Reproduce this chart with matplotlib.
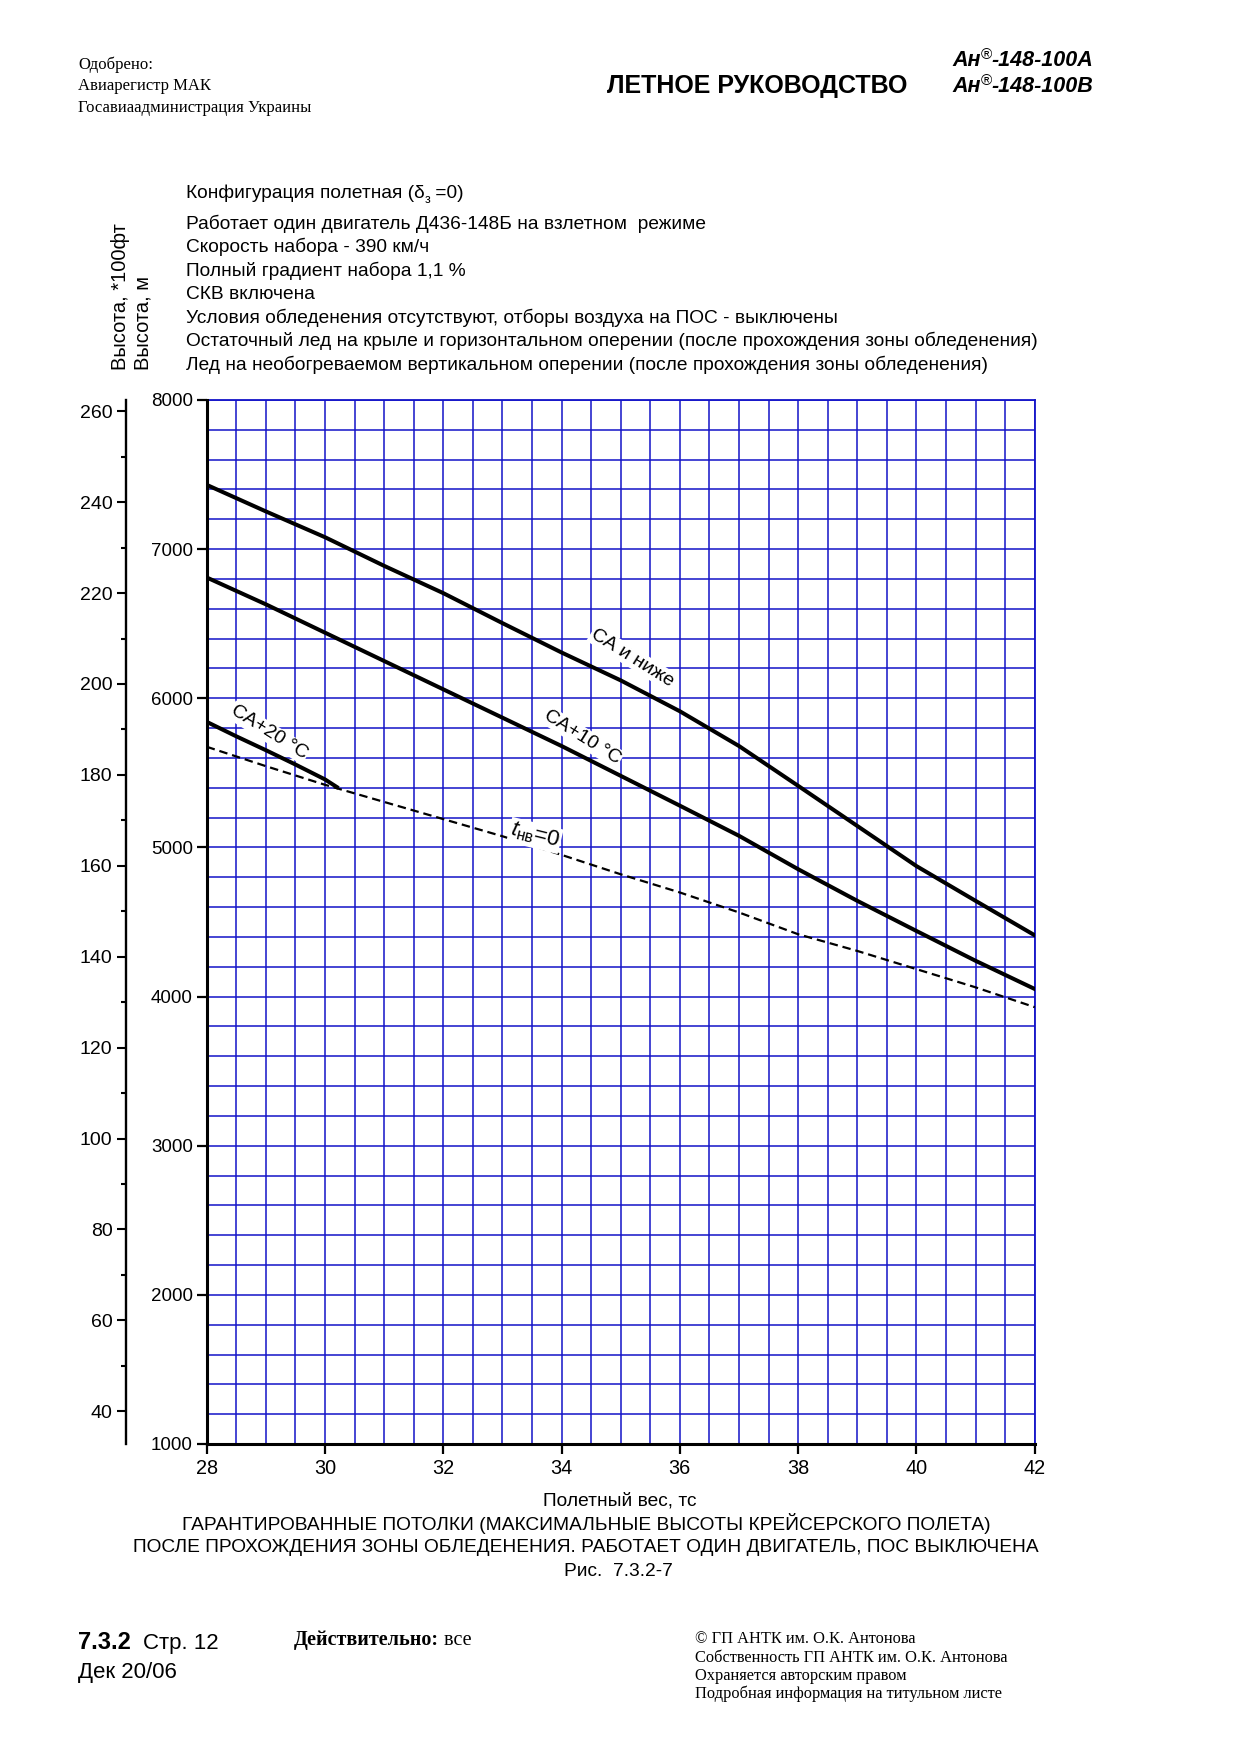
import matplotlib
matplotlib.use('Agg')
import matplotlib.pyplot as plt
from matplotlib.ticker import MultipleLocator
from matplotlib import font_manager as fm

# --- chart data ---
weight = [28, 29, 30, 31, 32, 33, 34, 35, 36, 37, 38, 39, 40, 41, 42]
h_isa = [7431, 7253, 7080, 6888, 6705, 6504, 6307, 6120, 5913, 5680, 5413, 5144, 4875, 4642, 4411]
h_isa10 = [6810, 6630, 6440, 6250, 6060, 5870, 5680, 5480, 5280, 5078, 4854, 4642, 4440, 4240, 4051]
weight20 = [28, 28.5, 29, 29.5, 30, 30.2]
h_isa20 = [5842, 5745, 5652, 5556, 5456, 5405]
h_t0 = [5675, 5545, 5420, 5305, 5190, 5075, 4950, 4820, 4698, 4564, 4418, 4306, 4184, 4062, 3929]

x_ticks = [28, 30, 32, 34, 36, 38, 40, 42]
m_ticks = [1000, 2000, 3000, 4000, 5000, 6000, 7000, 8000]
ft_ticks = [40, 60, 80, 100, 120, 140, 160, 180, 200, 220, 240, 260]

notes = ['Работает один двигатель Д436-148Б на взлетном  режиме',
         'Скорость набора - 390 км/ч',
         'Полный градиент набора 1,1 %',
         'СКВ включена',
         'Условия обледенения отсутствуют, отборы воздуха на ПОС - выключены',
         'Остаточный лед на крыле и горизонтальном оперении (после прохождения зоны обледенения)',
         'Лед на необогреваемом вертикальном оперении (после прохождения зоны обледенения)']
title_lines = ['ГАРАНТИРОВАННЫЕ ПОТОЛКИ (МАКСИМАЛЬНЫЕ ВЫСОТЫ КРЕЙСЕРСКОГО ПОЛЕТА)',
               'ПОСЛЕ ПРОХОЖДЕНИЯ ЗОНЫ ОБЛЕДЕНЕНИЯ. РАБОТАЕТ ОДИН ДВИГАТЕЛЬ, ПОС ВЫКЛЮЧЕНА']
approved = ['Одобрено:', 'Авиарегистр МАК', 'Госавиаадминистрация Украины']
copyright_lines = ['© ГП АНТК им. О.К. Антонова', 'Собственность ГП АНТК им. О.К. Антонова',
                   'Охраняется авторским правом', 'Подробная информация на титульном листе']

names = set(f.name for f in fm.fontManager.ttflist)
SANS = ['Liberation Sans', 'DejaVu Sans']
NARROW = (['Liberation Sans Narrow'] if 'Liberation Sans Narrow' in names else []) + SANS
SERIF = ['Liberation Serif', 'DejaVu Serif']
# no narrow face installed -> shrink the size so widths still match
NS = 16.5 if 'Liberation Sans Narrow' in names else 13.8

plt.rcParams['font.family'] = SANS
plt.rcParams['mathtext.fontset'] = 'custom'
plt.rcParams['mathtext.rm'] = 'Liberation Sans'
plt.rcParams['mathtext.it'] = 'Liberation Sans:italic'

W, H = 1240, 1755
BLUE = '#1414c8'
fig = plt.figure(figsize=(W / 100, H / 100), dpi=100)
rend = fig.canvas.get_renderer()


def fx(x):
    return x / W


def fy(y):
    return 1 - y / H


def run(x, y, parts):
    # draw pieces of text one after another on a common baseline
    cur = x
    for s, dy, kw in parts:
        t = fig.text(fx(cur), fy(y + dy), s, va='baseline', ha='left', **kw)
        cur = t.get_window_extent(rend).x1
    return cur


# main axes
ax = fig.add_axes([fx(206.7), fy(1444), 828 / W, 1044 / H])
ax.plot(weight, h_isa, color='black', lw=2.9, zorder=3)
ax.plot(weight, h_isa10, color='black', lw=2.9, zorder=3)
ax.plot(weight20, h_isa20, color='black', lw=2.9, zorder=3)
ax.plot(weight, h_t0, color='black', lw=1.6, ls=(0, (3.8, 2.2)), zorder=3)
ax.set_xlim(28, 42)
ax.set_ylim(1000, 8000)
ax.set_xticks(x_ticks)
ax.set_yticks(m_ticks)
ax.xaxis.set_minor_locator(MultipleLocator(0.5))
ax.yaxis.set_minor_locator(MultipleLocator(200))
ax.grid(which='both', color=BLUE, lw=1.1, zorder=1)
ax.set_axisbelow(True)
ax.tick_params(which='minor', length=0)
ax.tick_params(which='major', direction='out', length=7, width=1.6, color='black')
ax.tick_params(axis='y', labelsize=13.5, pad=3)
ax.tick_params(axis='x', labelsize=NS + 0.5, pad=4)
for lab in ax.get_xticklabels():
    lab.set_family(NARROW)
for s in ['left', 'bottom']:
    ax.spines[s].set_linewidth(2.2)
    ax.spines[s].set_zorder(4)
for s in ['top', 'right']:
    ax.spines[s].set_color(BLUE)
    ax.spines[s].set_linewidth(1.3)

lab_kw = dict(rotation_mode='anchor', ha='center', va='center', zorder=5,
              bbox=dict(facecolor='white', edgecolor='none', pad=1.0))
ax.text(35.2, 6270, 'СА и ниже', rotation=-32, fontsize=14, **lab_kw)
ax.text(34.35, 5740, 'СА+10 °С', rotation=-32, fontsize=14, **lab_kw)
ax.text(29.05, 5770, 'СА+20 °С', rotation=-32, fontsize=14, **lab_kw)
ax.text(33.55, 5080, r'$t_{\mathrm{нв}}$=0', rotation=-14, fontsize=16, **lab_kw)

# feet axis on the left
axf = fig.add_axes([fx(125.7), fy(1444), 1e-4, 1044 / H])
axf.patch.set_visible(False)
for s in ['top', 'right', 'bottom']:
    axf.spines[s].set_visible(False)
axf.spines['left'].set_linewidth(1.7)
axf.set_xticks([])
axf.set_ylim(1000 / 30.48, 8000 / 30.48)
axf.set_yticks(ft_ticks)
axf.yaxis.set_minor_locator(MultipleLocator(10))
axf.tick_params(which='major', direction='out', length=6.5, width=1.5, labelsize=14, pad=3)
axf.tick_params(which='minor', direction='out', length=3.5, width=1.5)

# axis titles
fig.text(fx(121), fy(370), 'Высота, *100фт', rotation=90, rotation_mode='anchor',
         ha='left', va='center', fontsize=14.5)
fig.text(fx(143), fy(370), 'Высота, м', rotation=90, rotation_mode='anchor',
         ha='left', va='center', fontsize=14.5)
fig.text(fx(620), fy(1501), 'Полетный вес, тс', ha='center', va='center', fontsize=NS, family=NARROW)
for yy, s in zip([1523, 1548], title_lines):
    fig.text(fx(586), fy(yy), s, ha='center', va='center', fontsize=NS, family=NARROW)
fig.text(fx(618), fy(1571), 'Рис.  7.3.2-7', ha='center', va='center', fontsize=NS, family=NARROW)

# notes block
nkw = dict(fontsize=NS, family=NARROW)
run(186, 198, [('Конфигурация полетная (δ', 0, nkw), ('з', 5, dict(fontsize=NS * 0.65, family=NARROW)),
               (' =0)', 0, nkw)])
for yy, s in zip([228.7, 252.2, 275.7, 299.2, 322.7, 346.2, 369.7], notes):
    fig.text(fx(186), fy(yy), s, va='baseline', ha='left', **nkw)

# page header
for yy, s in zip([69, 90, 112], approved):
    fig.text(fx(78), fy(yy), s, va='baseline', ha='left', fontsize=12, family=SERIF)
fig.text(fx(607), fy(93), 'ЛЕТНОЕ РУКОВОДСТВО', va='baseline', ha='left', fontsize=18,
         fontweight='bold')
bik = dict(fontsize=15.5, fontweight='bold', fontstyle='italic')
for yy, tail in [(66, '-148-100А'), (92, '-148-100В')]:
    run(952, yy, [('Ан', 0, bik), ('®', -7, dict(fontsize=11)), (tail, 0, bik)])

# page footer
x2 = run(78, 1649, [('7.3.2', 0, dict(fontsize=17, fontweight='bold'))])
fig.text(fx(x2 + 12), fy(1649), 'Стр. 12', va='baseline', ha='left', fontsize=16, family=NARROW)
fig.text(fx(78), fy(1678), 'Дек 20/06', va='baseline', ha='left', fontsize=16, family=NARROW)
run(294, 1645, [('Действительно:', 0, dict(fontsize=14.5, fontweight='bold', family=SERIF)),
                (' все', 0, dict(fontsize=14.5, family=SERIF))])
for yy, s in zip([1643, 1662, 1680, 1698], copyright_lines):
    fig.text(fx(695), fy(yy), s, va='baseline', ha='left', fontsize=11.8, family=SERIF)

fig.savefig('out.png', dpi=100)
